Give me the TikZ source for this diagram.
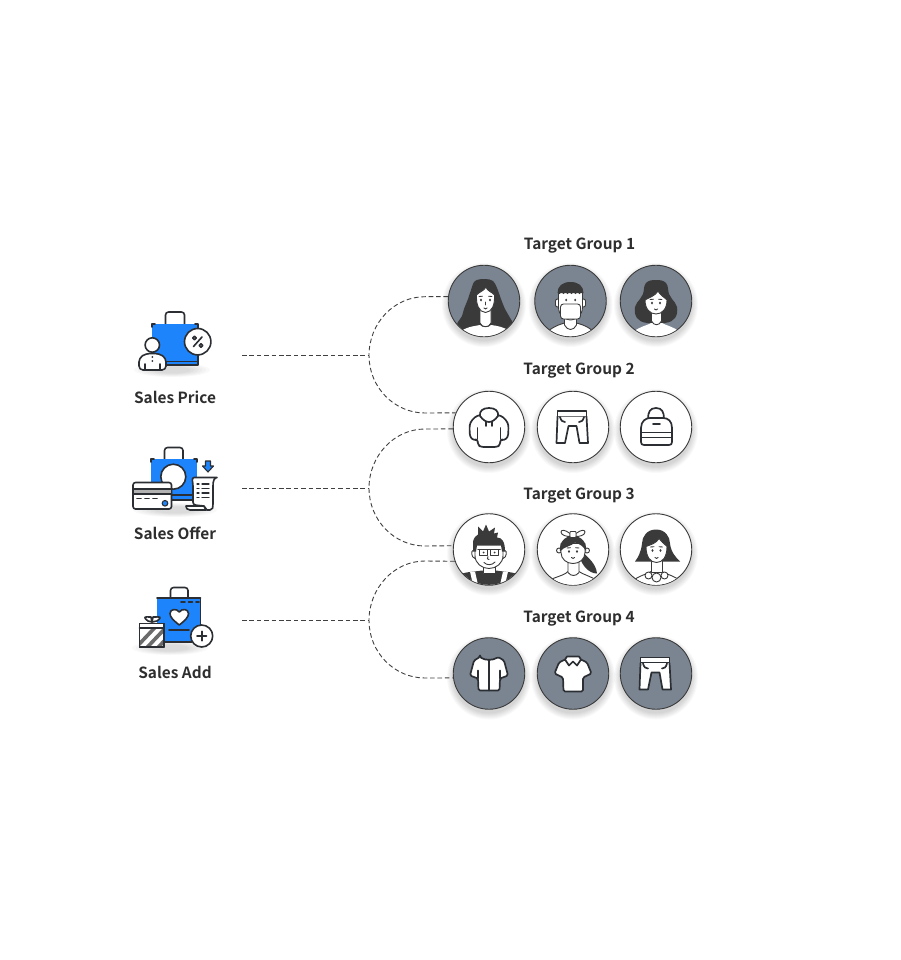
\documentclass[tikz,border=0pt]{standalone}
\usepackage{fontspec}
\setmainfont{Noto Sans CJK KR}[BoldFont={Noto Sans CJK KR Bold}]
\usetikzlibrary{calc}
\definecolor{ink}{HTML}{2B2E33}
\definecolor{slate}{HTML}{7B8591}
\definecolor{bagblue}{HTML}{1E84FB}
\definecolor{hair}{HTML}{3A3A3A}
\definecolor{txt}{HTML}{2E2E2E}
\definecolor{dashc}{HTML}{404040}
\tikzset{
  avatar/.style={circle,minimum size=71.5pt,inner sep=0pt,draw=hair,line width=.9pt},
  graybg/.style={avatar,fill=slate},
  whitebg/.style={avatar,fill=white},
  title/.style={font=\bfseries\fontsize{15.4}{18}\selectfont,text=txt,inner sep=0pt},
  link/.style={draw=dashc,line width=.9pt,dash pattern=on 4.6pt off 2.8pt},
  faceline/.style={draw=hair,line width=.9pt,line join=round,line cap=round},
  skin/.style={faceline,fill=white},
  wear/.style={draw=ink,line width=1.7pt,line join=round,line cap=round},
  icon/.style={draw=ink,line width=1.6pt,line join=round,line cap=round},
}
\newcommand{\softshadow}[2]{%
  \foreach \rr in {42,41,40,39,38,37,36}{\fill[black,opacity=.022] (#1,#2+4) circle (\rr);}}
\newcommand{\softfloor}[3]{%
  \foreach \rr in {1,.9,.8,.7,.6,.5}{\fill[black,opacity=.022] (#1,#2) ellipse ({#3*\rr} and {7*\rr});}}
\newcommand{\eyesmouth}[4]{% left x, right x, eye y, mouth y
  \fill[hair] (#1,#3) ellipse (1.1 and 1.5); \fill[hair] (#2,#3) ellipse (1.1 and 1.5);
  \draw[faceline] (#1-2,#3-3.5) -- (#1+1.5,#3-3.8); \draw[faceline] ({#2-1.5},#3-3.8) -- (#2+2,#3-3.5);
  \draw[faceline] ({(#1+#2)/2-1.6},#4) .. controls ({(#1+#2)/2},#4+1.2) .. ({(#1+#2)/2+1.6},#4);}
\begin{document}
\begin{tikzpicture}[x=1pt,y=-1pt]
\useasboundingbox (0,0) rectangle (900,960);
\fill[white] (0,0) rectangle (900,960);

% ---------- titles
\node[title] (t1) at (579.5,246) {Target Group 1};
\node[title] (t2) at (579,371) {Target Group 2};
\node[title] (t3) at (579,496) {Target Group 3};
\node[title] (t4) at (579,619) {Target Group 4};
\node[title] (l1) at (175,397) {Sales Price};
\node[title] (l2) at (175,533) {Sales Offer};
\node[title] (l3) at (175,672.5) {Sales Add};

% ---------- shadows and circles
\softshadow{484}{301}\softshadow{570.5}{301}\softshadow{656}{301}
\softshadow{489}{427}\softshadow{573}{427}\softshadow{656}{427}
\softshadow{489}{549.5}\softshadow{573}{549.5}\softshadow{656}{549.5}
\softshadow{489}{673.5}\softshadow{573}{673.5}\softshadow{656}{673.5}
\node[graybg] (g11) at (484,301) {};
\node[graybg] (g12) at (570.5,301) {};
\node[graybg] (g13) at (656,301) {};
\node[whitebg] (g21) at (489,427) {};
\node[whitebg] (g22) at (573,427) {};
\node[whitebg] (g23) at (656,427) {};
\node[whitebg] (g31) at (489,549.5) {};
\node[whitebg] (g32) at (573,549.5) {};
\node[whitebg] (g33) at (656,549.5) {};
\node[graybg] (g41) at (489,673.5) {};
\node[graybg] (g42) at (573,673.5) {};
\node[graybg] (g43) at (656,673.5) {};

% ---------- connectors
\coordinate (s1) at (242,355.5); \coordinate (j1) at (369,355.5);
\coordinate (s2) at (242,488);   \coordinate (j2) at (369,488);
\coordinate (s3) at (242,620.5); \coordinate (j3) at (369,620.5);
\draw[link] (s1) -- (j1);
\draw[link] (s2) -- (j2);
\draw[link] (s3) -- (j3);
\draw[link] (g11.173) -- (425,296.7) .. controls (394,296.7) and (369,323) .. (j1)
  .. controls (369,387) and (394,413) .. (425,413) -- (g21.157);
\draw[link] (g21.183) -- (425,429) .. controls (394,429) and (369,456) .. (j2)
  .. controls (369,520) and (394,546) .. (425,546) -- (g31.174);
\draw[link] (g31.199) -- (425,561) .. controls (394,561) and (369,588) .. (j3)
  .. controls (369,652) and (394,678) .. (425,678) -- (g41.187);

% ---------- person 1: long wavy hair
\begin{scope}[shift={(g11.center)}]
\clip (0,0) circle (35.3);
\fill[hair] plot[smooth cycle,tension=.6] coordinates {(1,-22) (-9,-20) (-13,-11) (-16,-2) (-20,8) (-22,15) (-27,24) (-20,31) (0,30) (22,31) (29,24) (25,15) (21,8) (17,-2) (13,-13) (9,-20)};
\fill[white] (-26,40) -- (-23,30) .. controls (-15,25) and (-8,25) .. (-4,24) .. controls (-2,27) and (5,27) .. (7,24) .. controls (14,25) and (20,26) .. (25,30) -- (28,40) -- cycle;
\draw[skin] (-4,8) -- (-4,22) .. controls (-2,27) and (5,27) .. (7,22) -- (7,8) -- cycle;
\draw[skin] (-7.5,-6) .. controls (-8,4) and (-5,11) .. (1.5,11.5) .. controls (8,11) and (11,4) .. (10.5,-6) .. controls (8,-9) and (3,-10) .. (2,-14) .. controls (0,-10) and (-5,-9) .. (-7.5,-6) -- cycle;
\eyesmouth{-3}{6}{-1}{7}
\draw[faceline] (1.5,1) -- (1.5,4);
\end{scope}

% ---------- person 2: mask
\begin{scope}[shift={(g12.center)}]
\clip (0,0) circle (35.3);
\draw[skin] (-24,40) -- (-21,29) .. controls (-14,24) and (-9,23) .. (-6,22) -- (6,22) .. controls (9,23) and (15,24) .. (21,29) -- (24,40) -- cycle;
\draw[skin] (-6,12) -- (-6,24) .. controls (-3,30) and (3,30) .. (6,24) -- (6,12) -- cycle;
\draw[skin,rounded corners=2pt] (-15,-2) rectangle (-11,6);
\draw[skin,rounded corners=2pt] (11,-2) rectangle (15,6);
\draw[skin] (-12,-9) -- (-12,6) .. controls (-12,14) and (-6,19) .. (0,19) .. controls (6,19) and (12,14) .. (12,6) -- (12,-9) -- cycle;
\fill[hair] (-13,-8) .. controls (-13,-15) and (-8,-19) .. (0,-19) .. controls (8,-19) and (13,-15) .. (13,-8) -- (-13,-8) -- cycle;
\foreach \q in {-11,-7,-3,1,5,9}{\fill[hair] (\q,-8) circle (1.1);}
\draw[skin,rounded corners=3pt] (-10,3) rectangle (10,18);
\fill[hair] (-4.3,-1) ellipse (1 and 1.4); \fill[hair] (4.7,-1) ellipse (1 and 1.4);
\end{scope}

% ---------- person 3: wavy bob
\begin{scope}[shift={(g13.center)}]
\clip (0,0) circle (35.3);
\fill[hair] plot[smooth cycle,tension=.7] coordinates {(0,-21) (-10,-18) (-13,-7) (-16,-2) (-21,6) (-19,17) (-9,22) (9,22) (19,17) (21,6) (16,-2) (13,-7) (10,-18)};
\fill[white] (-26,40) -- (-22,30) .. controls (-14,25) and (-8,24) .. (-5,22) -- (6,22) .. controls (9,24) and (15,25) .. (23,30) -- (26,40) -- cycle;
\draw[skin] (-4.5,9) -- (-4.5,20) .. controls (-2,25) and (3,25) .. (5.5,20) -- (5.5,9) -- cycle;
\draw[skin] (-11,-1) .. controls (-11,8) and (-6,13) .. (0,13) .. controls (6,13) and (11,8) .. (11,-1) .. controls (8,-4) and (4,-6) .. (2,-10) .. controls (-1,-5) and (-6,-4) .. (-11,-1) -- cycle;
\eyesmouth{-4}{4}{2}{8}
\end{scope}

% ---------- hoodie
\begin{scope}[shift={(g21.center)}]
\draw[wear,fill=white,rounded corners=2.5pt] (-9,-12) .. controls (-15,-10) and (-19,-5) .. (-19.5,1) -- (-19,10) -- (-15,13.5) -- (-11.5,12) -- (-11,18) -- (-8,20) -- (8,20) -- (11,18) -- (11.5,12) -- (15,13.5) -- (19,10) -- (19.5,1) .. controls (19,-5) and (15,-10) .. (9,-12) -- cycle;
\draw[wear,fill=white] (-9,-11) .. controls (-10,-16) and (-6,-19) .. (0,-19) .. controls (6,-19) and (10,-16) .. (9,-11) .. controls (6,-7) and (3,-5) .. (0,-5) .. controls (-3,-5) and (-6,-7) .. (-9,-11) -- cycle;
\draw[wear] (-11.5,12) -- (-11.5,1); \draw[wear] (11.5,12) -- (11.5,1);
\draw[wear] (-3,-5) -- (-3,-1); \draw[wear] (3,-5) -- (3,-1);
\end{scope}

% ---------- pants
\begin{scope}[shift={(g22.center)}]
\draw[wear,fill=white] (-15.5,-16) rectangle (13.5,-10.5);
\draw[wear,fill=white] (-15.5,-10.5) -- (-16.5,16) -- (-8,16) -- (-4.5,-1) -- (3.5,-1) -- (6.5,16) -- (15,16) -- (13.5,-10.5);
\draw[wear] (-13,-10) .. controls (-12,-6) and (-10,-5) .. (-8,-5);
\draw[wear] (11,-10) .. controls (10,-6) and (8,-5) .. (6,-5);
\end{scope}

% ---------- backpack
\begin{scope}[shift={(g23.center)}]
\draw[wear,fill=white] (-8,-8) .. controls (-8,-15) and (-6,-19) .. (0,-19) .. controls (6,-19) and (8,-15) .. (8,-8);
\draw[wear,fill=white] (-15,1) .. controls (-15,-6) and (-10,-9) .. (-6,-9) -- (7,-9) .. controls (12,-9) and (16,-6) .. (16,1) -- (16,15) .. controls (16,17) and (15,18) .. (13,18) -- (-12,18) .. controls (-14,18) and (-15,17) .. (-15,15) -- cycle;
\draw[wear] (-15,5.5) -- (16,5.5); \draw[wear] (-15,10.5) -- (16,10.5);
\draw[wear] (-3,-3) -- (4,-3);
\end{scope}

% ---------- man with glasses
\begin{scope}[shift={(g31.center)}]
\clip (0,0) circle (35.3);
\fill[hair] (-32,40) -- (-27,24) .. controls (-20,22) and (-12,22) .. (-7,21) -- (7,21) .. controls (12,22) and (20,22) .. (27,24) -- (32,40) -- cycle;
\fill[white] (-19,22) -- (-14,22) -- (-10,40) -- (-15,40) -- cycle;
\fill[white] (14,22) -- (19,22) -- (15,40) -- (10,40) -- cycle;
\draw[skin] (-6,14) -- (-6,24) -- (6,24) -- (6,14) -- cycle;
\draw[skin] (-16,1) .. controls (-18,1) and (-18,8) .. (-14,9) -- (-12,2);
\draw[skin] (16,1) .. controls (18,1) and (18,8) .. (14,9) -- (12,2);
\draw[skin] (-14,-6) -- (-14,6) .. controls (-14,14) and (-7,19) .. (0,19) .. controls (7,19) and (14,14) .. (14,6) -- (14,-6) -- cycle;
\fill[hair] (-16,2) -- (-16,-8) .. controls (-15,-12) and (-13,-14) .. (-11,-15) -- (-11,-23) -- (-6,-18) -- (-3,-25) -- (0,-18) -- (6,-22) -- (5,-16) -- (9,-17) -- (8,-12) .. controls (13,-12) and (16,-8) .. (16,2) -- (13,2) -- (12,-4) -- (-12,-4) -- (-13,2) -- cycle;
\draw[faceline,fill=white] (-9.5,0) rectangle (-1.5,5.5);
\draw[faceline,fill=white] (1,0) rectangle (9.5,5.5);
\draw[faceline,line width=1.5pt] (-11,0) -- (11,0);
\fill[hair] (-5.5,3) circle (1); \fill[hair] (5.5,3) circle (1);
\draw[faceline] (-1,7) .. controls (-3,9) and (-1,10) .. (0,10);
\draw[faceline] (-5,13) .. controls (-2,16) and (3,16) .. (6,12.5);
\end{scope}

% ---------- ponytail girl
\begin{scope}[shift={(g32.center)}]
\clip (0,0) circle (35.3);
\draw[skin] (-28,40) -- (-20,29) .. controls (-12,26) and (-8,25) .. (-5,22) -- (6,22) .. controls (10,25) and (16,26) .. (24,31) -- (28,40) -- cycle;
\draw[skin] (-5,10) -- (-5,23) .. controls (-2,27) and (3,27) .. (6,23) -- (6,10) -- cycle;
\fill[hair] (9,2) .. controls (15,8) and (23,14) .. (24,24) .. controls (16,24) and (9,16) .. (7,8) -- cycle;
\draw[skin] (-14,1) circle (2.5); \draw[skin] (14,1) circle (2.5);
\draw[skin] (-12,-6) -- (-12,3) .. controls (-12,10) and (-6,14) .. (0,14) .. controls (6,14) and (12,10) .. (12,3) -- (12,-6) -- cycle;
\fill[hair] (-13,2) .. controls (-14,-8) and (-8,-13) .. (0,-14) .. controls (8,-13) and (14,-8) .. (13,2) .. controls (11,-3) and (6,-6) .. (2,-7) .. controls (-2,-3) and (-9,-3) .. (-13,2) -- cycle;
\draw[skin] (-3,-16) .. controls (-8,-20) and (-12,-20) .. (-12,-17.5) .. controls (-12,-14) and (-6,-13) .. (-3,-13) -- cycle;
\draw[skin] (3,-16) .. controls (8,-20) and (12,-20) .. (12,-17.5) .. controls (12,-14) and (6,-13) .. (3,-13) -- cycle;
\draw[skin,rounded corners=.8pt] (-3,-18) rectangle (3,-12);
\eyesmouth{-4}{4}{2}{8}
\end{scope}

% ---------- bob girl
\begin{scope}[shift={(g33.center)}]
\clip (0,0) circle (35.3);
\fill[hair] (0,-20) .. controls (-9,-20) and (-14,-13) .. (-14,-6) .. controls (-15,3) and (-18,8) .. (-21,12) -- (24,12) .. controls (20,8) and (15,3) .. (14,-6) .. controls (14,-13) and (9,-20) .. (0,-20) -- cycle;
\draw[skin] (-24,40) -- (-20,29) .. controls (-13,25) and (-8,24) .. (-5,22) -- (6,22) .. controls (9,24) and (14,25) .. (21,29) -- (25,40) -- cycle;
\draw[skin] (-5,10) -- (-5,23) -- (6,23) -- (6,10) -- cycle;
\draw[skin] (-7.5,26) circle (3.5); \draw[skin] (8.5,26) circle (3.5); \draw[skin] (.5,28) circle (4.5);
\draw[skin] (-10,-3) .. controls (-10,7) and (-6,13) .. (0.5,13) .. controls (7,13) and (11,7) .. (11,-3) .. controls (8,-6) and (5,-8) .. (3,-11) .. controls (0,-6) and (-5,-5) .. (-10,-3) -- cycle;
\eyesmouth{-3.5}{4.5}{1}{8}
\end{scope}

% ---------- jacket
\begin{scope}[shift={(g41.center)}]
\draw[wear,fill=white,rounded corners=1.5pt] (-9,-16.5) -- (-15,-13) -- (-19,2) -- (-11,5) -- (-10.5,17) -- (10.5,17) -- (11,5) -- (19,2) -- (15,-13) -- (9,-16.5) .. controls (4,-13) and (-4,-13) .. (-9,-16.5) -- cycle;
\draw[wear] (0,-13.5) -- (0,17);
\draw[wear] (-11,5) -- (-11,-3); \draw[wear] (11,5) -- (11,-3);
\end{scope}

% ---------- polo
\begin{scope}[shift={(g42.center)}]
\draw[wear,fill=white,rounded corners=1.5pt] (-8,-14) -- (-14,-11) -- (-18.5,0) -- (-10,4) -- (-9.5,18) -- (10,18) -- (10,4) -- (18.5,0) -- (14,-11) -- (8,-14) -- cycle;
\draw[wear,fill=white] (-8,-14) -- (-6,-17) -- (6,-17) -- (8,-14) -- (4,-8) -- (0,-12) -- (-4,-8) -- cycle;
\end{scope}

% ---------- pants (filled)
\begin{scope}[shift={(g43.center)}]
\draw[wear,fill=white] (-15.5,-16) rectangle (13.5,-10.5);
\draw[wear,fill=white] (-15.5,-10.5) -- (-16.5,16) -- (-8,16) -- (-4.5,-1) -- (3.5,-1) -- (6.5,16) -- (15,16) -- (13.5,-10.5);
\draw[wear] (-13,-10) .. controls (-12,-6) and (-10,-5) .. (-8,-5);
\draw[wear] (11,-10) .. controls (10,-6) and (8,-5) .. (6,-5);
\end{scope}

% ---------- icon: Sales Price
\softfloor{172}{370}{38}
\draw[icon,rounded corners=3pt] (165.5,324) -- (165.5,312) -- (184.5,312) -- (184.5,324);
\fill[bagblue] (152,324) rectangle (198,365);
\draw[icon] (152,327) -- (152,324) -- (155,324);
\draw[icon] (195,324) -- (198,324) -- (198,365) -- (165,365);
\draw[icon] (165,361.5) -- (198,361.5);
\draw[icon,fill=white] (197.7,341.7) circle (13.2);
\draw[icon] (202,337) -- (193.5,346.5);
\draw[icon] (194.5,338) circle (1.7); \draw[icon] (201,345.5) circle (1.7);
\draw[icon,fill=white,rounded corners=4pt] (139,370) -- (139,358) -- (146,353.5) -- (159,353.5) -- (166,358) -- (166,370) -- cycle;
\draw[icon,fill=white] (152.3,345) circle (7.2);
\draw[icon] (145,370) -- (145,364); \draw[icon] (160,370) -- (160,364);
\fill[ink] (152.3,357) circle (1); \fill[ink] (152.3,361) circle (1);

% ---------- icon: Sales Offer
\softfloor{175}{510}{42}
\draw[icon,rounded corners=3pt] (164.5,459) -- (164.5,447.5) -- (183,447.5) -- (183,459);
\fill[bagblue] (151,459) rectangle (197,500);
\draw[icon] (151,462) -- (151,459) -- (154,459);
\draw[icon] (194,459) -- (197,459) -- (197,462);
\draw[icon] (171,495) -- (197,495); \draw[icon] (171,500) -- (197,500);
\draw[icon,fill=white] (173.3,476.7) circle (12.5);
\draw[icon,fill=white,rounded corners=2.5pt] (133,509) rectangle (171.5,482.5);
\fill[black!30] (134,489) rectangle (170.5,494);
\draw[icon] (133,489) -- (171.5,489);
\draw[icon] (133,494) -- (171.5,494);
\draw[icon] (137,498.5) -- (141,498.5); \draw[icon] (145,498.5) -- (149,498.5); \draw[icon] (153,498.5) -- (157,498.5);
\fill[bagblue] (165,503.3) circle (2.6); \draw[ink,line width=1.1pt] (165,503.3) circle (2.8);
\draw[icon,fill=white] (186,506) -- (204,506) -- (206,510) -- (190,510) .. controls (187,510) and (186,508) .. (186,506) -- cycle;
\draw[icon,fill=white] (194,477.5) .. controls (191,478) and (193,482) .. (193,486) -- (193,502) .. controls (193,506) and (197,505) .. (204,506) -- (207,510) -- (210,510) .. controls (213,510) and (213,507) .. (213,504) -- (213,486) .. controls (213,481) and (214,478) .. (217,477.5) -- cycle;
\foreach \yy in {484,488.5,493,497.5}{\draw[icon,line width=1.3pt] (197,\yy) -- (199,\yy); \draw[icon,line width=1.3pt] (202,\yy) -- (209,\yy);}
\draw[ink,line width=1.1pt,fill=bagblue,line join=round] (205.5,461) -- (210.5,461) -- (210.5,466) -- (213.5,466) -- (208,472) -- (202.5,466) -- (205.5,466) -- cycle;

% ---------- icon: Sales Add
\softfloor{170}{648}{38}
\draw[icon,rounded corners=3pt] (170.5,598) -- (170.5,587.5) -- (188,587.5) -- (188,598);
\fill[bagblue] (157,598) rectangle (200.5,642);
\draw[icon] (157,598) -- (200.5,598);
\draw[ink,line width=1.6pt] (200.5,598) -- (200.5,628);
\draw[icon] (164,642) -- (192,642);
\draw[icon,dash pattern=on 4pt off 3.5pt] (181,602) -- (199,602);
\draw[icon] (169,630) -- (189,630);
\draw[icon,fill=white] (179.3,625) .. controls (173,620) and (170,617) .. (170,613.5) .. controls (170,609) and (176.5,608) .. (179.3,612) .. controls (182,608) and (188.5,609) .. (188.5,613.5) .. controls (188.5,617) and (185.5,620) .. (179.3,625) -- cycle;
\draw[icon,fill=white] (148,621) .. controls (142,616) and (145,617) .. (151,617) -- (152,622) -- cycle;
\draw[icon,fill=white] (157,621) .. controls (163,616) and (160,617) .. (153,617) -- (152,622) -- cycle;
\draw[icon,fill=white] (139.5,623.5) rectangle (164,647);
\begin{scope}
\clip (139.5,628) rectangle (164,647);
\foreach \dd in {0,11,22,33}{\fill[hair!75] (134+\dd,647) -- (139+\dd,647) -- (157+\dd,628) -- (152+\dd,628) -- cycle;}
\end{scope}
\draw[icon] (139.5,628) -- (164,628);
\draw[icon] (139.5,623.5) rectangle (164,647);
\draw[icon,fill=white] (201.7,636) circle (11);
\draw[icon] (197,636) -- (206.5,636); \draw[icon] (201.7,631.3) -- (201.7,640.7);
\end{tikzpicture}
\end{document}
